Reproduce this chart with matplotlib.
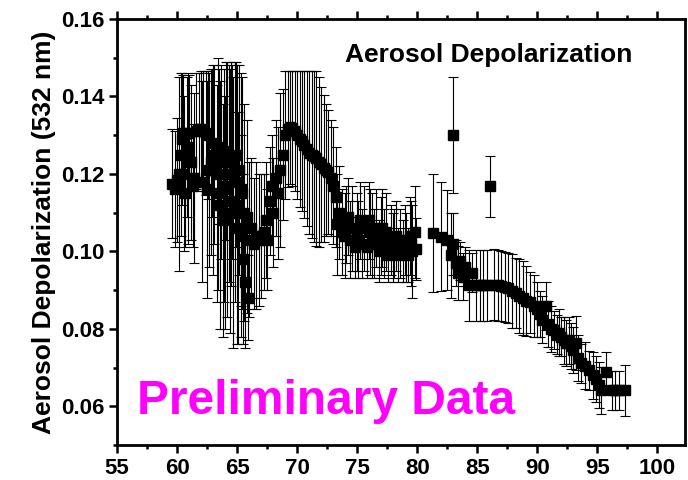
import matplotlib
matplotlib.use('Agg')
from matplotlib import pyplot as plt
from matplotlib.ticker import MultipleLocator

plt.rcParams['font.family'] = ['Liberation Sans', 'DejaVu Sans']
plt.rcParams['font.weight'] = 'bold'

# Values
x_vals = [59.6, 59.8, 60.0, 60.2, 60.3, 60.4, 60.5, 60.6, 60.7, 60.8, 60.9, 61.0,
          61.2, 61.3, 61.4, 61.6, 61.8, 62.0, 62.2, 62.4, 62.6, 62.7, 62.9, 63.0,
          63.1, 63.3, 63.4, 63.6, 63.7, 63.9, 64.0, 64.1, 64.3, 64.4, 64.6, 64.7,
          64.8, 65.0, 65.1, 65.2, 65.3, 65.4, 65.5, 65.6, 65.7, 65.8, 65.9, 66.0,
          66.2, 66.4, 66.6, 66.8, 67.0, 67.2, 67.4, 67.5, 67.7, 67.9, 68.0, 68.2,
          68.4, 68.6, 68.8, 69.0, 69.2, 69.4, 69.6, 69.8, 70.0, 70.2, 70.4, 70.6,
          70.8, 71.0, 71.2, 71.4, 71.6, 71.8, 72.0, 72.2, 72.4, 72.6, 72.8, 73.0,
          73.2, 73.3, 73.5, 73.7,
          74.0, 74.2, 74.4, 74.6, 74.8, 75.0, 75.2, 75.4, 75.6, 75.8, 76.0, 76.2,
          76.4, 76.6, 76.8, 77.0, 77.2, 77.4, 77.6, 77.8, 78.0, 78.2, 78.4, 78.6,
          78.8, 79.0, 79.2, 79.4, 79.6, 79.8, 79.9,
          81.3, 82.0, 82.5, 82.8, 83.0, 83.2, 83.4, 83.6, 83.8, 84.0, 84.3, 84.6,
          84.9, 85.2, 85.5, 85.8, 86.4, 86.7, 87.0, 87.3, 87.6, 87.9, 88.2, 88.5,
          88.8, 89.1, 89.4, 89.7, 90.0, 90.2, 90.4, 90.7, 90.9, 91.1, 91.4, 91.6,
          91.8, 92.0, 92.2, 92.4, 92.6, 92.8, 93.0, 93.2, 93.4, 93.6, 94.0, 94.3,
          94.6, 94.9, 95.1, 95.3, 95.7, 96.2, 96.5, 96.8, 97.3,
          62.1, 62.5, 62.8, 63.5, 63.8, 64.2, 64.5, 64.9, 65.3,
          74.1, 75.1, 76.1, 77.1, 78.1, 79.1, 79.5,
          83.0, 86.1]
depol = [0.1175, 0.1160, 0.1185, 0.1200, 0.1250, 0.1290, 0.1305, 0.1200, 0.1150, 0.1270, 0.1240, 0.1305,
         0.1230, 0.1170, 0.1190, 0.1310, 0.1315, 0.1315, 0.1312, 0.1305, 0.1300, 0.1210, 0.1280, 0.1210,
         0.1250, 0.1150, 0.1200, 0.1120, 0.1230, 0.1170, 0.1100, 0.1260, 0.1200, 0.1130, 0.1230, 0.1100,
         0.1180, 0.1120, 0.1060, 0.1210, 0.1040, 0.1150, 0.0980, 0.1100, 0.0920, 0.1090, 0.0880, 0.1030,
         0.1060, 0.1020, 0.1040, 0.1030, 0.1040, 0.1050, 0.1080, 0.1030, 0.1130, 0.1170, 0.1100, 0.1190,
         0.1150, 0.1210, 0.1250, 0.1300, 0.1315, 0.1320, 0.1318, 0.1310, 0.1300, 0.1290, 0.1285, 0.1275,
         0.1265, 0.1255, 0.1250, 0.1245, 0.1240, 0.1230, 0.1225, 0.1215, 0.1210, 0.1205, 0.1190, 0.1170,
         0.1140, 0.1070, 0.1100, 0.1050,
         0.1040, 0.1090, 0.1030, 0.1060, 0.1010, 0.1050, 0.1080, 0.1020, 0.1060, 0.1010, 0.1080, 0.1040,
         0.1020, 0.1060, 0.1000, 0.1040, 0.1020, 0.1050, 0.0990, 0.1030, 0.1010, 0.1040, 0.0990, 0.1020,
         0.1000, 0.1030, 0.0990, 0.1040, 0.1000, 0.1050, 0.1005,
         0.1047, 0.1038, 0.1029, 0.0990, 0.1019, 0.0970, 0.0945, 0.0975, 0.0935, 0.0960, 0.0912, 0.0945,
         0.0912, 0.0912, 0.0912, 0.0912, 0.0914, 0.0912, 0.0910, 0.0908, 0.0905, 0.0898, 0.0893, 0.0885,
         0.0880, 0.0872, 0.0868, 0.0858, 0.0850, 0.0838, 0.0824, 0.0860, 0.0812, 0.0800, 0.0797, 0.0785,
         0.0790, 0.0780, 0.0770, 0.0763, 0.0770, 0.0755, 0.0745, 0.0763, 0.0725, 0.0711, 0.0705, 0.0693,
         0.0680, 0.0670, 0.0655, 0.0641, 0.0689, 0.0641, 0.0641, 0.0641, 0.0641,
         0.1180, 0.1160, 0.1230, 0.1270, 0.1080, 0.1160, 0.1200, 0.1250, 0.1160,
         0.1070, 0.1030, 0.1050, 0.1060, 0.1020, 0.1010, 0.1020,
         0.1300, 0.1168]
err = [0.0140, 0.0150, 0.0160, 0.0250, 0.0210, 0.0170, 0.0150, 0.0200, 0.0140, 0.0180, 0.0220, 0.0150,
       0.0200, 0.0160, 0.0220, 0.0150, 0.0145, 0.0150, 0.0155, 0.0160, 0.0165, 0.0250, 0.0190, 0.0270,
       0.0230, 0.0280, 0.0300, 0.0320, 0.0250, 0.0300, 0.0300, 0.0230, 0.0280, 0.0340, 0.0250, 0.0350,
       0.0310, 0.0360, 0.0300, 0.0270, 0.0260, 0.0300, 0.0220, 0.0280, 0.0170, 0.0250, 0.0110, 0.0200,
       0.0180, 0.0170, 0.0190, 0.0170, 0.0160, 0.0150, 0.0150, 0.0130, 0.0140, 0.0130, 0.0140, 0.0150,
       0.0170, 0.0200, 0.0170, 0.0165, 0.0150, 0.0145, 0.0148, 0.0155, 0.0165, 0.0175, 0.0180, 0.0190,
       0.0200, 0.0210, 0.0215, 0.0220, 0.0225, 0.0220, 0.0200, 0.0190, 0.0170, 0.0160, 0.0150, 0.0150,
       0.0130, 0.0130, 0.0120, 0.0110,
       0.0110, 0.0100, 0.0100, 0.0110, 0.0080, 0.0100, 0.0100, 0.0090, 0.0110, 0.0080, 0.0100, 0.0110,
       0.0090, 0.0100, 0.0080, 0.0100, 0.0090, 0.0100, 0.0070, 0.0090, 0.0090, 0.0090, 0.0070, 0.0090,
       0.0080, 0.0090, 0.0070, 0.0100, 0.0120, 0.0120, 0.0080,
       0.0152, 0.0140, 0.0130, 0.0110, 0.0080, 0.0060, 0.0070, 0.0050, 0.0060, 0.0050, 0.0092, 0.0050,
       0.0092, 0.0092, 0.0092, 0.0092, 0.0092, 0.0092, 0.0090, 0.0090, 0.0090, 0.0095, 0.0090, 0.0095,
       0.0095, 0.0090, 0.0080, 0.0080, 0.0070, 0.0060, 0.0060, 0.0062, 0.0060, 0.0060, 0.0050, 0.0050,
       0.0060, 0.0050, 0.0060, 0.0060, 0.0060, 0.0060, 0.0060, 0.0070, 0.0060, 0.0050, 0.0060, 0.0050,
       0.0060, 0.0060, 0.0060, 0.0060, 0.0050, 0.0050, 0.0050, 0.0050, 0.0065,
       0.0260, 0.0280, 0.0240, 0.0200, 0.0300, 0.0330, 0.0290, 0.0240, 0.0300,
       0.0100, 0.0100, 0.0110, 0.0100, 0.0090, 0.0090, 0.0110,
       0.0150, 0.0078]

x_ticks = [55, 60, 65, 70, 75, 80, 85, 90, 95, 100]
y_ticks = [0.06, 0.08, 0.10, 0.12, 0.14, 0.16]

fig = plt.figure(figsize=(6.88, 4.8), dpi=100)
ax = fig.add_axes([117 / 688, 35 / 480, 568 / 688, 426 / 480])

ax.errorbar(x_vals, depol, yerr=err, fmt='s', ms=7, color='black',
            ecolor='black', elinewidth=0.8, capsize=3.6, capthick=0.8)

ax.set_xlim(55, 102.3)
ax.set_ylim(0.05, 0.16)
ax.set_xticks(x_ticks)
ax.set_yticks(y_ticks)
ax.set_yticklabels(['%.2f' % v for v in y_ticks])
ax.xaxis.set_minor_locator(MultipleLocator(2.5))
ax.yaxis.set_minor_locator(MultipleLocator(0.01))

for s in ax.spines.values():
    s.set_linewidth(2)
ax.tick_params(which='both', direction='out', width=1.8, top=True, right=False,
               labelsize=16)
ax.tick_params(which='major', length=6, pad=3)
ax.tick_params(which='minor', length=3)

ax.set_ylabel('Aerosol Depolarization (532 nm)', fontsize=19, fontweight='bold', labelpad=4)

ax.text(74.0, 0.1489, 'Aerosol Depolarization', fontsize=19, fontweight='bold', va='baseline')
ax.text(56.7, 0.058, 'Preliminary Data', fontsize=34.5, fontweight='bold', color='#ff00ff',
        va='baseline')

plt.savefig('out.png', dpi=100)
